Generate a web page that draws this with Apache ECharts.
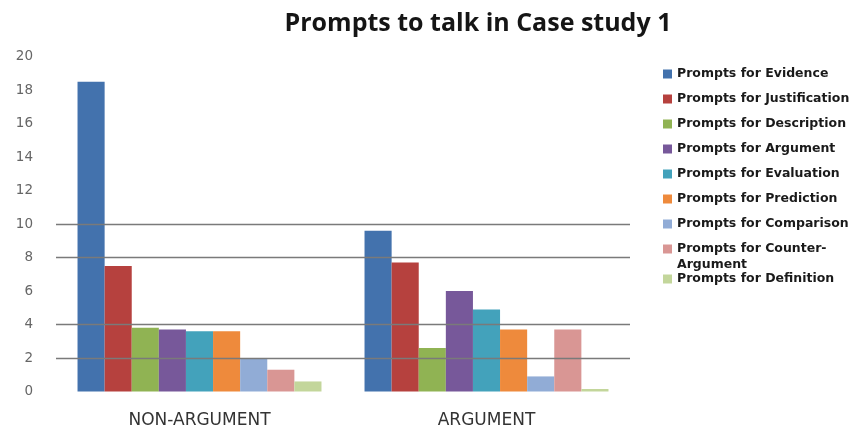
<!DOCTYPE html>
<html><head><meta charset="utf-8">
<script src="https://cdn.jsdelivr.net/npm/echarts@6/dist/echarts.min.js"></script>
<style>html,body{margin:0;padding:0;background:#fff}#c{width:856px;height:432px}</style>
</head><body><div id="c"></div>
<script>
const categories = ['NON-ARGUMENT', 'ARGUMENT'];
const seriesNames = ['Prompts for Evidence','Prompts for Justification','Prompts for Description','Prompts for Argument','Prompts for Evaluation','Prompts for Prediction','Prompts for Comparison','Prompts for Counter-Argument','Prompts for Definition'];
const evidence = [18.5, 9.6];
const justification = [7.5, 7.7];
const description = [3.8, 2.6];
const argument = [3.7, 6.0];
const evaluation = [3.6, 4.9];
const prediction = [3.6, 3.7];
const comparison = [2.0, 0.9];
const counterArgument = [1.3, 3.7];
const definition = [0.6, 0.15];
const gridValues = [2, 4, 8, 10];
const yTicks = [0, 2, 4, 6, 8, 10, 12, 14, 16, 18, 20];

const values = [evidence, justification, description, argument, evaluation, prediction, comparison, counterArgument, definition];
const colors = ['#4372ad','#b6413e','#90b353','#77589a','#43a2bb','#ee8a3c','#91acd6','#d99694','#c3d69b'];

const chart = echarts.init(document.getElementById('c'));
const series = values.map((v, i) => {
  const s = {name: seriesNames[i], type: 'bar', data: v, barGap: '0%', barCategoryGap: '15%',
    itemStyle: {color: colors[i]}};
  if (i === 0) {
    s.markLine = {silent: true, symbol: 'none', label: {show: false},
      lineStyle: {color: '#7a7a7a', type: 'solid', width: 1.4},
      data: gridValues.map(g => ({yAxis: g}))};
  }
  return s;
});
const legendText = {fontFamily: 'DejaVu Sans', fontWeight: 'bold', fontSize: 12.5, color: '#1a1a1a', lineHeight: 14};
chart.setOption({
  animation: false,
  backgroundColor: '#fff',
  title: {text: 'Prompts to talk in Case study 1', left: 473, top: 6, textAlign: 'center',
    textStyle: {fontFamily: 'Open Sans', fontWeight: 'bold', fontSize: 25, color: '#151515'}},
  grid: {left: 56, right: 226, top: 56.5, bottom: 40.5},
  legend: [
    {orient: 'vertical', left: 663, top: 67, padding: 0, itemWidth: 9, itemHeight: 9, itemGap: 11,
      icon: 'rect', textStyle: legendText, data: seriesNames.slice(0, 8),
      formatter: n => n === 'Prompts for Counter-Argument' ? 'Prompts for Counter-' : n},
    {orient: 'vertical', left: 663, top: 272, padding: 0, itemWidth: 9, itemHeight: 9,
      icon: 'rect', textStyle: legendText, data: seriesNames.slice(8)}
  ],
  graphic: [{type: 'text', left: 677, top: 258,
    style: {text: 'Argument', fontFamily: 'DejaVu Sans', fontWeight: 'bold', fontSize: 12.5, fill: '#1a1a1a'}}],
  xAxis: {type: 'category', data: categories,
    axisLine: {show: false}, axisTick: {show: false},
    axisLabel: {fontFamily: 'DejaVu Sans', fontSize: 17, color: '#333', margin: 21}},
  yAxis: {type: 'value', min: 0, max: 20, interval: 2,
    axisLine: {show: false}, axisTick: {show: false}, splitLine: {show: false},
    axisLabel: {fontFamily: 'DejaVu Sans', fontSize: 13.5, color: '#666', margin: 23,
      formatter: v => yTicks.indexOf(v) >= 0 ? String(v) : ''}},
  series: series
});
</script></body></html>
